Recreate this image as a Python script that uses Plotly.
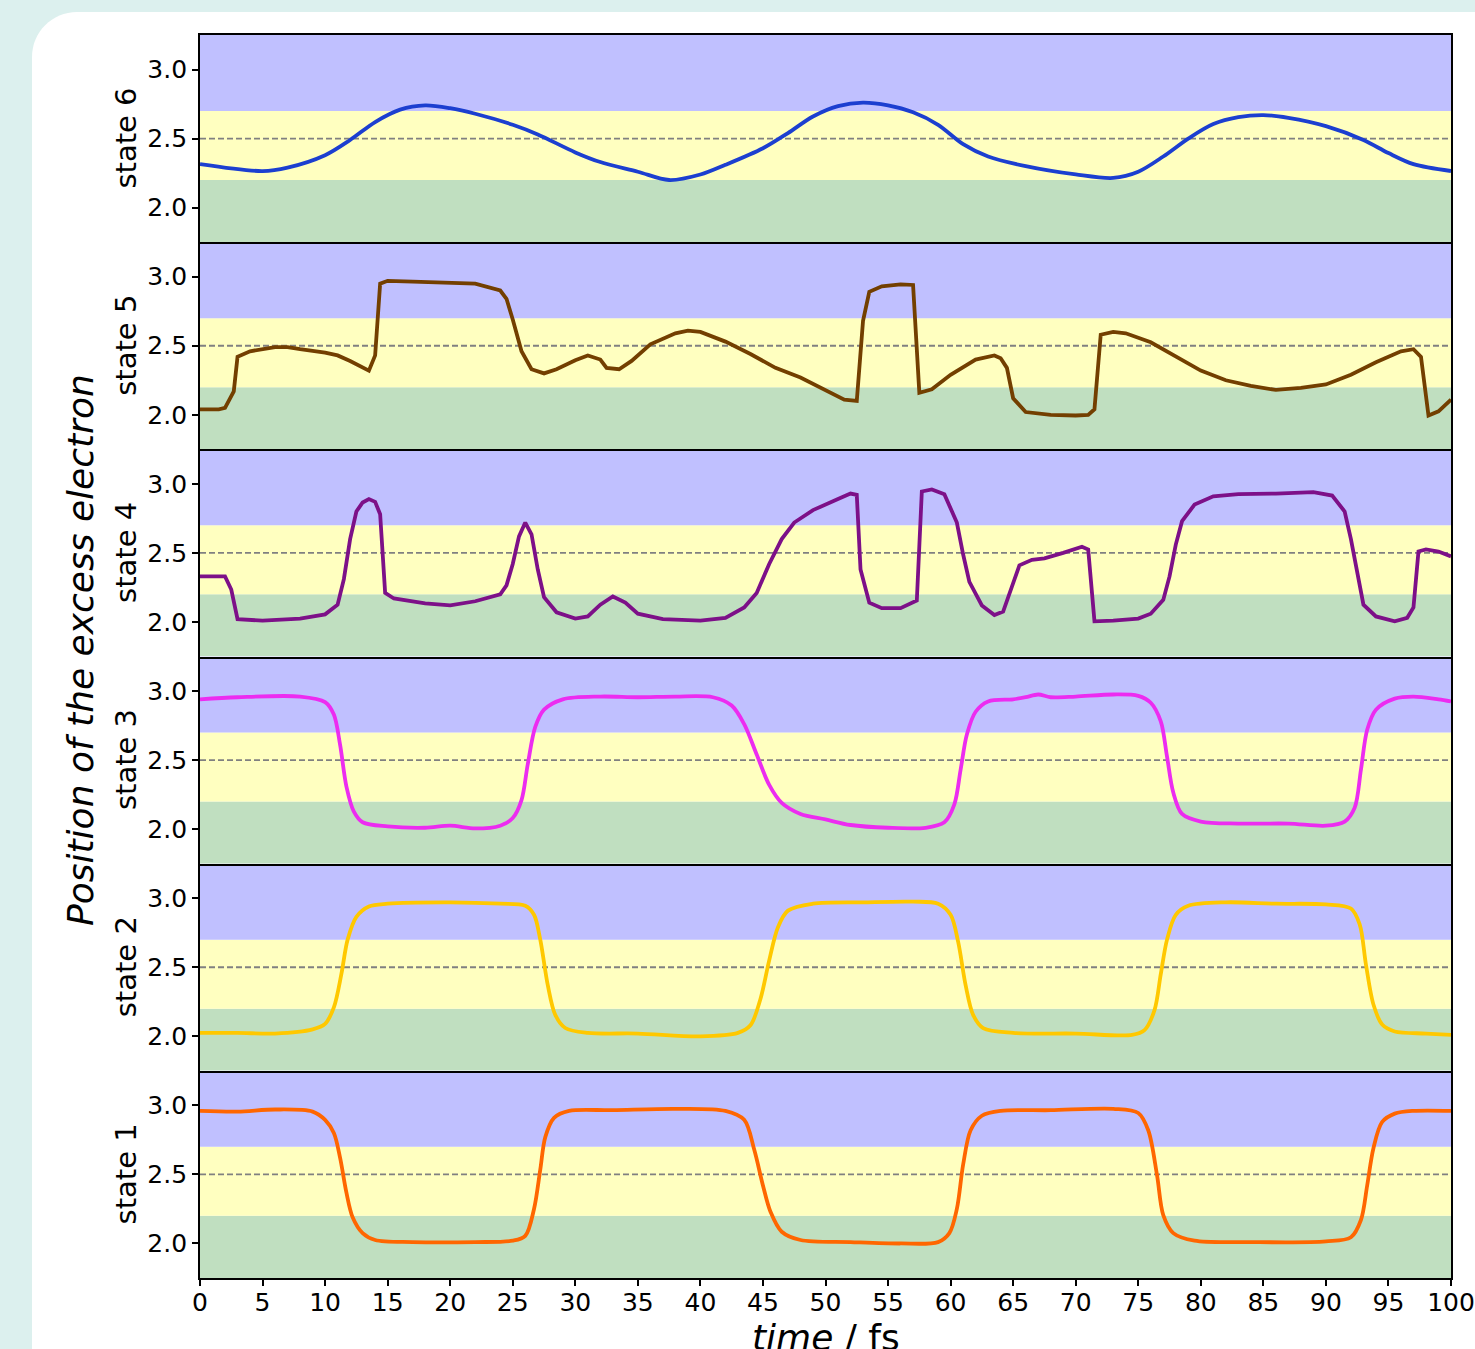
import plotly.graph_objects as go
from plotly.subplots import make_subplots

# ---------------- data ----------------
t6 = [0, 5, 7, 10, 12, 14, 16, 18, 20, 22, 25, 27, 30, 32, 35, 37.5, 40, 42, 45, 47, 49, 51, 53, 55, 57, 59, 61, 63, 66, 70, 73, 75, 77, 79, 81, 83, 85, 87, 90, 93, 95, 97, 100]
v6 = [2.315, 2.265, 2.29, 2.38, 2.49, 2.62, 2.71, 2.74, 2.72, 2.68, 2.60, 2.53, 2.40, 2.33, 2.26, 2.20, 2.24, 2.31, 2.43, 2.54, 2.66, 2.735, 2.76, 2.74, 2.69, 2.60, 2.46, 2.37, 2.30, 2.24, 2.215, 2.26, 2.37, 2.50, 2.605, 2.655, 2.67, 2.65, 2.59, 2.49, 2.395, 2.315, 2.265]

t5 = [0, 1.5, 2, 2.7, 3, 4, 6, 7, 8, 10, 11, 12, 13.5, 14, 14.4, 15, 17, 20, 22, 24, 24.5, 25, 25.7, 26.5, 27.5, 28.5, 30, 31, 32, 32.5, 33.5, 34.5, 36, 38, 39, 40, 42, 44, 46, 48, 50, 51.5, 52.5, 53, 53.5, 54.5, 56, 57, 57.5, 58.5, 60, 62, 63.5, 64, 64.5, 65, 66, 68, 70, 71, 71.5, 72, 73, 74, 76, 78, 80, 82, 84, 86, 88, 90, 92, 94, 96, 97, 97.6, 98.2, 99, 100]
v5 = [2.04, 2.04, 2.05, 2.17, 2.42, 2.46, 2.49, 2.49, 2.475, 2.45, 2.43, 2.39, 2.32, 2.43, 2.95, 2.97, 2.965, 2.96, 2.95, 2.90, 2.84, 2.69, 2.46, 2.33, 2.30, 2.33, 2.395, 2.43, 2.40, 2.34, 2.33, 2.39, 2.51, 2.59, 2.61, 2.60, 2.53, 2.44, 2.34, 2.27, 2.18, 2.11, 2.10, 2.68, 2.89, 2.93, 2.945, 2.94, 2.16, 2.185, 2.29, 2.40, 2.43, 2.41, 2.34, 2.12, 2.02, 2.00, 1.995, 2.00, 2.04, 2.58, 2.60, 2.59, 2.525, 2.42, 2.32, 2.25, 2.21, 2.18, 2.195, 2.22, 2.29, 2.38, 2.46, 2.475, 2.42, 1.995, 2.025, 2.11]

t4 = [0, 2, 2.5, 3, 5, 8, 10, 11, 11.5, 12, 12.5, 13, 13.5, 14, 14.4, 14.8, 15.5, 18, 20, 22, 24, 24.5, 25, 25.5, 26, 26.5, 27, 27.5, 28.5, 30, 31, 32, 33, 34, 35, 37, 40, 42, 43.5, 44.5, 45.5, 46.5, 47.5, 49, 51, 52, 52.5, 52.8, 53.5, 54.5, 56, 57.3, 57.7, 58.5, 59.5, 60.5, 61, 61.5, 62.5, 63.5, 64.2, 65, 65.5, 66.5, 67.5, 69, 70.5, 71, 71.5, 73, 75, 76, 77, 77.5, 78, 78.5, 79.5, 81, 83, 86, 89, 90.5, 91.5, 92, 92.5, 93, 94, 95.5, 96.5, 97, 97.4, 98, 99, 100]
v4 = [2.33, 2.33, 2.235, 2.02, 2.01, 2.025, 2.055, 2.125, 2.31, 2.60, 2.80, 2.865, 2.89, 2.87, 2.78, 2.21, 2.17, 2.135, 2.12, 2.15, 2.20, 2.265, 2.42, 2.62, 2.72, 2.635, 2.38, 2.18, 2.07, 2.025, 2.04, 2.125, 2.185, 2.14, 2.06, 2.02, 2.01, 2.03, 2.105, 2.21, 2.42, 2.60, 2.72, 2.81, 2.89, 2.93, 2.92, 2.38, 2.14, 2.10, 2.10, 2.155, 2.945, 2.96, 2.925, 2.72, 2.49, 2.29, 2.12, 2.05, 2.075, 2.29, 2.41, 2.45, 2.46, 2.50, 2.545, 2.525, 2.005, 2.01, 2.025, 2.06, 2.16, 2.33, 2.56, 2.73, 2.85, 2.91, 2.925, 2.93, 2.94, 2.915, 2.80, 2.60, 2.345, 2.125, 2.04, 2.005, 2.03, 2.105, 2.51, 2.525, 2.51, 2.475]

t3 = [0, 3, 8, 10, 10.7, 11.2, 11.7, 12.3, 13, 15, 18, 20, 22, 24, 25, 25.7, 26.2, 26.8, 27.5, 29, 32, 35, 38, 41, 42.5, 43.5, 44.5, 45.5, 46.5, 48, 50, 52, 55, 58, 59.5, 60.3, 60.8, 61.3, 62, 63, 65, 66, 67, 68, 70, 73, 75, 76, 76.8, 77.3, 77.8, 78.5, 80, 83, 87, 90, 91.5, 92.3, 92.8, 93.3, 94, 95.5, 97, 99, 100]
v3 = [2.94, 2.955, 2.96, 2.92, 2.83, 2.61, 2.31, 2.127, 2.05, 2.02, 2.01, 2.025, 2.005, 2.025, 2.08, 2.21, 2.47, 2.74, 2.865, 2.94, 2.96, 2.955, 2.96, 2.955, 2.895, 2.76, 2.54, 2.32, 2.19, 2.11, 2.07, 2.03, 2.01, 2.01, 2.05, 2.18, 2.43, 2.685, 2.85, 2.925, 2.94, 2.955, 2.975, 2.955, 2.96, 2.975, 2.965, 2.915, 2.78, 2.525, 2.265, 2.11, 2.055, 2.04, 2.04, 2.025, 2.055, 2.155, 2.43, 2.72, 2.865, 2.945, 2.96, 2.94, 2.925]

t2 = [0, 3, 6, 9, 10, 10.7, 11.3, 11.8, 12.5, 13.5, 15, 20, 24, 26, 26.7, 27.2, 27.8, 28.4, 29.2, 31, 35, 40, 43, 44, 44.8, 45.5, 46.2, 47, 49, 53, 57, 59, 60, 60.6, 61.2, 61.8, 62.6, 65, 70, 74.5, 75.5, 76.3, 76.8, 77.3, 78, 79, 82, 86, 90, 92, 92.7, 93.2, 93.8, 94.5, 95.5, 98, 100]
v2 = [2.025, 2.025, 2.02, 2.05, 2.09, 2.21, 2.45, 2.70, 2.865, 2.94, 2.96, 2.97, 2.96, 2.945, 2.88, 2.70, 2.37, 2.155, 2.06, 2.025, 2.02, 2.00, 2.025, 2.08, 2.27, 2.55, 2.79, 2.91, 2.96, 2.97, 2.975, 2.96, 2.88, 2.685, 2.37, 2.155, 2.06, 2.025, 2.02, 2.01, 2.045, 2.19, 2.45, 2.70, 2.88, 2.945, 2.97, 2.96, 2.955, 2.925, 2.81, 2.52, 2.23, 2.085, 2.035, 2.02, 2.01]

t1 = [0, 3, 6, 9, 10, 10.7, 11.2, 11.7, 12.2, 13, 14, 17, 22, 25, 26, 26.7, 27.2, 27.6, 28.3, 29.5, 33, 38, 42, 43.5, 44.3, 45, 45.6, 46.5, 48, 52, 56, 59, 59.9, 60.5, 61, 61.6, 62.5, 64, 68, 73, 75, 75.8, 76.5, 77, 77.8, 79.5, 84, 90, 92, 92.8, 93.3, 93.8, 94.5, 95.5, 97, 100]
v1 = [2.96, 2.955, 2.97, 2.955, 2.895, 2.80, 2.62, 2.37, 2.19, 2.075, 2.025, 2.01, 2.01, 2.02, 2.055, 2.25, 2.535, 2.77, 2.91, 2.96, 2.965, 2.975, 2.96, 2.895, 2.68, 2.42, 2.23, 2.085, 2.025, 2.01, 2.00, 2.01, 2.075, 2.25, 2.57, 2.82, 2.925, 2.96, 2.965, 2.975, 2.945, 2.82, 2.495, 2.205, 2.075, 2.02, 2.01, 2.015, 2.045, 2.17, 2.42, 2.69, 2.88, 2.94, 2.96, 2.96]

state_labels = ["state 6", "state 5", "state 4", "state 3", "state 2", "state 1"]
series_t = [t6, t5, t4, t3, t2, t1]
series_v = [v6, v5, v4, v3, v2, v1]
colors = ["#1c3fd0", "#733f00", "#7d1088", "#ec2cf0", "#ffc800", "#ff6600"]
shapes_mode = ["spline", "linear", "linear", "spline", "spline", "spline"]

y_ticks = [2.0, 2.5, 3.0]
x_ticks = list(range(0, 101, 5))
band_edges = [1.75, 2.2, 2.7, 3.25]
band_colors = ["#c0dfc0", "#ffffc0", "#c0c0ff"]
y_range = [1.75, 3.25]
x_range = [0, 100]

FONT = "DejaVu Sans"
TICK_SIZE = 25

fig = make_subplots(rows=6, cols=1, shared_xaxes=True, vertical_spacing=0)

shapes = []
# white card
W, H = 1475, 1349
ml, mr, mt, mb = 200, 24, 35, 71
pw, ph = W - ml - mr, H - mt - mb
def px(x):
    return (x - ml) / pw
def py(y):
    return (H - mb - y) / ph
r = 45
k = 0.5523
x0, y0, x1, y1 = 32, 12, 1520, 1400
path = (f"M {px(x0)},{py(y1)} L {px(x0)},{py(y0 + r)} "
        f"C {px(x0)},{py(y0 + r - k * r)} {px(x0 + r - k * r)},{py(y0)} {px(x0 + r)},{py(y0)} "
        f"L {px(x1)},{py(y0)} L {px(x1)},{py(y1)} Z")
shapes.append(dict(type="path", path=path, xref="paper", yref="paper",
                   fillcolor="white", line=dict(width=0), layer="below"))

for i in range(6):
    row = i + 1
    sfx = "" if row == 1 else str(row)
    for j in range(3):
        shapes.append(dict(type="rect", xref=f"x{sfx} domain", yref=f"y{sfx}",
                           x0=0, x1=1, y0=band_edges[j], y1=band_edges[j + 1],
                           fillcolor=band_colors[j], line=dict(width=0), layer="below"))
    shapes.append(dict(type="line", xref=f"x{sfx} domain", yref=f"y{sfx}",
                       x0=0, x1=1, y0=2.5, y1=2.5,
                       line=dict(color="#808080", width=1.8, dash="6px,3px"), layer="below"))
    line = dict(color=colors[i], width=3.8, shape=shapes_mode[i])
    if shapes_mode[i] == "spline":
        line["smoothing"] = 0.9
    fig.add_trace(go.Scatter(x=series_t[i], y=series_v[i], mode="lines", line=line,
                             showlegend=False, hoverinfo="skip"), row=row, col=1)
    fig.update_yaxes(range=y_range, tickvals=y_ticks, ticktext=[f"{v:.1f}" for v in y_ticks],
                     ticks="outside", ticklen=6, tickwidth=1.8, tickcolor="black",
                     showline=True, linecolor="black", linewidth=1.8, mirror=True,
                     showgrid=False, zeroline=False, automargin=False,
                     tickfont=dict(family=FONT, size=TICK_SIZE, color="black"), row=row, col=1)
    fig.update_xaxes(range=x_range, showline=True, linecolor="black", linewidth=1.8,
                     mirror=True if row == 1 else False, automargin=False,
                     showgrid=False, zeroline=False, ticks="" if row < 6 else "outside",
                     row=row, col=1)

fig.update_xaxes(tickvals=x_ticks, ticklen=6, tickwidth=1.8, tickcolor="black",
                 ticklabeloverflow="allow", ticklabelstandoff=-5,
                 tickfont=dict(family=FONT, size=TICK_SIZE, color="black"), row=6, col=1)

annotations = []
for i in range(6):
    sfx = "" if i == 0 else str(i + 1)
    annotations.append(dict(text=state_labels[i], xref="paper", yref=f"y{sfx} domain",
                            x=px(126), y=0.5, xanchor="center", yanchor="middle",
                            textangle=-90, showarrow=False,
                            font=dict(family=FONT, size=29, color="black")))
annotations.append(dict(text="<i>Position of the excess electron</i>", xref="paper", yref="paper",
                        x=px(80), y=py(650), xanchor="center", yanchor="middle", textangle=-90,
                        showarrow=False, font=dict(family=FONT, size=36, color="black")))
annotations.append(dict(text="<i>time</i> / fs", xref="paper", yref="paper",
                        x=0.5, y=py(1337), xanchor="center", yanchor="middle",
                        showarrow=False, font=dict(family=FONT, size=36, color="black")))

fig.update_layout(width=W, height=H, margin=dict(l=ml, r=mr, t=mt, b=mb, autoexpand=False),
                  paper_bgcolor="#dcf0ee", plot_bgcolor="white",
                  shapes=shapes, annotations=annotations,
                  font=dict(family=FONT, color="black"))

fig.write_html("out.html")
